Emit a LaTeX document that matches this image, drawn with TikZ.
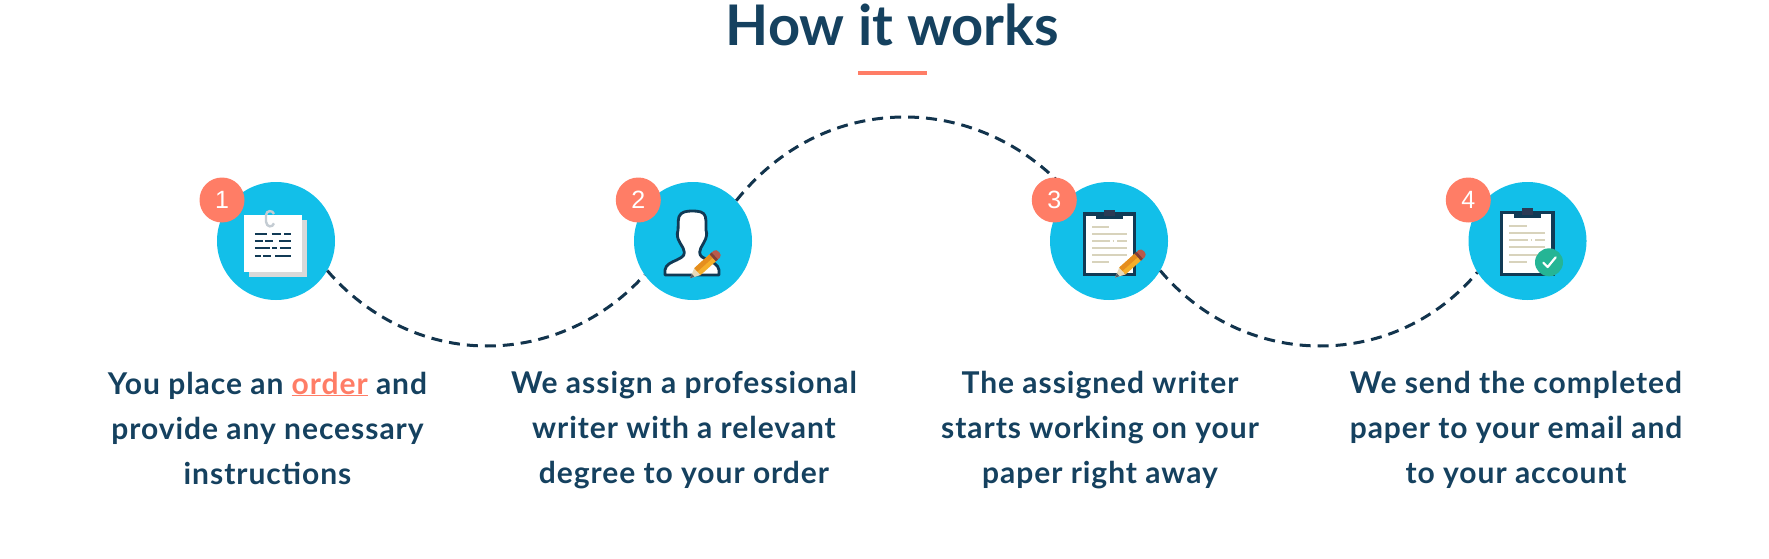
\documentclass[tikz,border=0pt]{standalone}
\usepackage{fontspec}
\setmainfont{Lato}[BoldFont=Lato Bold]
\newfontfamily\capfont{Lato Bold}[LetterSpace=3.2]
\newfontfamily\digitfont{Liberation Sans}
\definecolor{navy}{HTML}{15415F}
\definecolor{dashnavy}{HTML}{12344D}
\definecolor{coral}{HTML}{FF7D66}
\definecolor{sky}{HTML}{12BFE9}
\definecolor{paperline}{HTML}{D8D3BC}
\definecolor{clipdark}{HTML}{113A55}
\definecolor{clipgrey}{HTML}{2B3A55}
\definecolor{clipsilver}{HTML}{C4CCD3}
\definecolor{pencilor}{HTML}{F5AE2A}
\definecolor{pencilshade}{HTML}{E58E1E}
\definecolor{pencilred}{HTML}{B85A4C}
\definecolor{pencilwood}{HTML}{E8D9B8}
\definecolor{penciltip}{HTML}{55606A}
\definecolor{checkgreen}{HTML}{25B595}
\tikzset{
  bigdisc/.style={circle,fill=sky,minimum size=118pt,inner sep=0pt},
  badge/.style={circle,fill=coral,minimum size=45pt,inner sep=0pt,text=white,font=\digitfont\fontsize{25}{25}\selectfont},
  flow/.style={draw=dashnavy,line width=3pt,dash pattern=on 11pt off 7pt},
  caption/.style={align=center,text=navy,font=\capfont\fontsize{30}{45}\selectfont,inner sep=0pt},
  zoomA/.style={shift={(#1,165)},x=.3333pt,y=-.3333pt},
}
\newcommand{\pencilat}[3]{%
  \begin{scope}[shift={(#1,#2)},rotate=#3]
    \fill[pencilwood] (0,0) -- (30,-14) -- (30,14) -- cycle;
    \fill[penciltip] (0,0) -- (13,-6) -- (13,6) -- cycle;
    \fill[pencilor] (30,-14) rectangle (92,14);
    \fill[pencilshade] (30,0) rectangle (92,-14);
    \fill[pencilred] (92,-14) -- (108,-14) to[out=0,in=0,looseness=1.2] (108,14) -- (92,14) -- cycle;
    \fill[pencilred!70!black] (92,-14) rectangle (100,14);
  \end{scope}}
\begin{document}
\begin{tikzpicture}[x=1pt,y=-1pt]
\useasboundingbox (0,0) rectangle (1769,559);
\fill[white] (0,0) rectangle (1769,559);
\node[text=navy,font=\bfseries\fontsize{56}{56}\selectfont,inner sep=0pt] (title) at (892.5,25) {How it works};
\node[fill=coral,minimum width=69pt,minimum height=4pt,inner sep=0pt] (rule) at (892.5,73) {};

\node[bigdisc] (d1) at (276,241) {};
\node[bigdisc] (d2) at (693,241) {};
\node[bigdisc] (d3) at (1109,241) {};
\node[bigdisc] (d4) at (1527.5,241) {};
\coordinate (low1) at (487,346);
\coordinate (top1) at (905,117);
\coordinate (low2) at (1320,346);

\path[flow] (d1.-30) .. controls (367,317) and (425,346) .. (low1) .. controls (547,346) and (604,320) .. (d2.215);
\path[flow] (d2.43) .. controls (780,146) and (840,117) .. (top1) .. controls (969,117) and (1030,147) .. (d3.130);
\path[flow] (d3.-30) .. controls (1200,318) and (1258,346) .. (low2) .. controls (1382,346) and (1438,319) .. (d4.212);

% icon 1
\begin{scope}[zoomA=190]
  \fill[black!15] (177,165) rectangle (350,337);
  \fill[white] (162,150) rectangle (335,322);
  \draw[clipsilver,line width=2.4pt] (252,147) .. controls (248,135) and (230,135) .. (228,150) -- (228,170) .. controls (230,188) and (248,188) .. (252,175);
  \foreach \y/\a/\b/\c/\d/\e/\f in {208/195/232/245/272/282/302,228/195/218/225/250/268/302,250/195/240/247/262/270/302,272/195/212/220/242/256/302}{
    \draw[clipdark,line width=1.8pt] (\a,\y) -- (\b,\y) (\c,\y) -- (\d,\y) (\e,\y) -- (\f,\y);}
\end{scope}

% icon 2
\begin{scope}[zoomA=605]
  \filldraw[fill=white,draw=clipdark,line width=2.8pt,line join=round]
    (180,330) -- (180,315) .. controls (182,298) and (200,292) .. (215,285)
    .. controls (228,278) and (238,275) .. (238,262)
    .. controls (238,245) and (215,230) .. (217,205)
    .. controls (222,195) and (217,170) .. (222,155)
    .. controls (228,140) and (245,138) .. (262,138)
    .. controls (280,138) and (298,140) .. (301,155)
    .. controls (306,170) and (300,195) .. (305,205)
    .. controls (305,230) and (284,245) .. (284,262)
    .. controls (284,275) and (295,278) .. (308,285)
    .. controls (322,292) and (340,298) .. (342,315) -- (342,330) -- cycle;
  \pencilat{255}{340}{42}
\end{scope}

% icon 3
\begin{scope}[zoomA=1020]
  \filldraw[fill=white,draw=clipdark,line width=3.2pt] (193,147) rectangle (344,329);
  \fill[clipdark] (228,143) rectangle (308,163);
  \fill[clipgrey] (252,135) rectangle (284,152);
  \foreach \y/\a/\b in {186/216/266,207/216/321,248/216/321,271/216/321,292/216/266}{
    \draw[paperline,line width=2pt] (\a,\y) -- (\b,\y);}
  \draw[paperline,line width=2pt] (216,227) -- (270,227) (278,227) -- (283,227) (291,227) -- (321,227);
  \pencilat{285}{338}{42}
\end{scope}

% icon 4
\begin{scope}[zoomA=1435]
  \filldraw[fill=white,draw=clipdark,line width=3.2pt] (200,143) rectangle (354,329);
  \fill[clipdark] (237,139) rectangle (318,159);
  \fill[clipgrey] (261,130) rectangle (293,149);
  \foreach \y/\a/\b in {183/223/275,204/223/331,245/223/331,270/223/331,291/223/275}{
    \draw[paperline,line width=2pt] (\a,\y) -- (\b,\y);}
  \draw[paperline,line width=2pt] (223,225) -- (279,225) (287,225) -- (291,225) (301,225) -- (331,225);
  \fill[checkgreen] (342,292) circle[radius=42];
  \draw[white,line width=2.2pt,line cap=round,line join=round] (325,293) -- (338,306) -- (362,277);
\end{scope}

\node[badge] (b1) at (222,200) {1};
\node[badge] (b2) at (638.3,200) {2};
\node[badge] (b3) at (1054.3,200) {3};
\node[badge] (b4) at (1468.3,200) {4};

\node[caption] (t1) at (267.5,428) {You place an \textcolor{coral}{\underline{order}} and\\provide any necessary\\instructions};
\node[caption] (t2) at (684,430) {We assign a professional\\writer with a relevant\\degree to your order};
\node[caption] (t3) at (1100,430) {The assigned writer\\starts working on your\\paper right away};
\node[caption] (t4) at (1516,430) {We send the completed\\paper to your email and\\to your account};
\end{tikzpicture}
\end{document}
